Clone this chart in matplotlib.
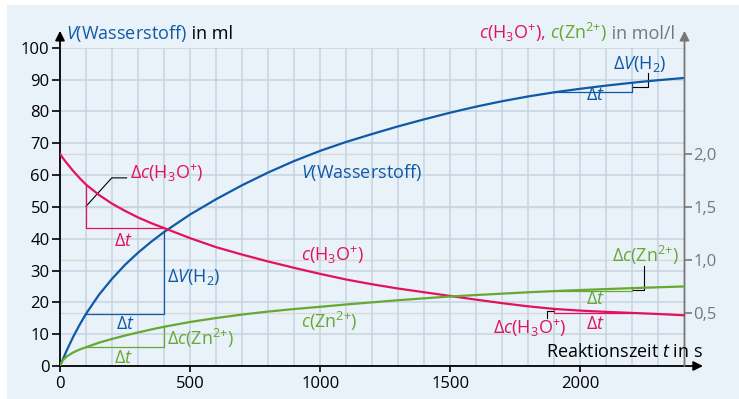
import numpy as np
import matplotlib
matplotlib.use('Agg')
import matplotlib.pyplot as plt
from matplotlib.patches import Rectangle
from matplotlib.transforms import IdentityTransform

plt.rcParams['font.family'] = ['Open Sans', 'DejaVu Sans']
plt.rcParams['mathtext.fontset'] = 'custom'
plt.rcParams['mathtext.rm'] = 'Open Sans'
plt.rcParams['mathtext.it'] = 'Open Sans:italic'
plt.rcParams['mathtext.bf'] = 'Open Sans:bold'

# values
t_v = [0, 25, 50, 75, 100, 150, 200, 250, 300, 350, 400, 500, 600, 700, 800, 900, 1000,
       1100, 1200, 1300, 1400, 1500, 1600, 1700, 1800, 1900, 2000, 2100, 2200, 2300, 2400]
v_h2 = [0, 4.75, 9.05, 12.9, 16.4, 22.4, 27.4, 31.8, 35.6, 39.0, 42.1, 47.6, 52.4, 56.8, 60.8, 64.4, 67.6,
        70.4, 72.9, 75.3, 77.5, 79.6, 81.5, 83.2, 84.7, 86.0, 87.1, 88.1, 89.0, 89.8, 90.5]

t_c = [0, 10, 25, 50, 75, 100, 150, 200, 250, 300, 350, 400, 500, 600, 700, 800, 900, 1000,
       1100, 1200, 1300, 1400, 1500, 1600, 1700, 1800, 1900, 2000, 2100, 2200, 2300, 2400]
c_h3o = [2.0, 1.963, 1.915, 1.84, 1.772, 1.71, 1.612, 1.53, 1.462, 1.40, 1.347, 1.30, 1.205, 1.12,
         1.05, 0.985, 0.925, 0.868, 0.815, 0.77, 0.73, 0.695, 0.66, 0.625, 0.592, 0.562, 0.538,
         0.522, 0.51, 0.50, 0.49, 0.478]
c_zn = [0, 0.052, 0.088, 0.127, 0.155, 0.177, 0.22, 0.255, 0.287, 0.316, 0.344, 0.37, 0.415, 0.452,
        0.485, 0.513, 0.537, 0.558, 0.58, 0.60, 0.62, 0.638, 0.655, 0.669, 0.682, 0.695, 0.706,
        0.716, 0.725, 0.734, 0.742, 0.75]

x_ticks = [0, 500, 1000, 1500, 2000]
v_ticks = list(range(0, 101, 10))
c_ticks = [0.5, 1.0, 1.5, 2.0]
c_labels = ['0,5', '1,0', '1,5', '2,0']

# chemistry labels ({+} keeps mathtext from spacing the sign)
H3O = 'H$_3$O$^{+}$'
ZN = 'Zn$^{2{+}}$'

blue = '#0f5aa6'
red = '#e2125b'
green = '#66a832'
gray = '#777777'
bg = '#e9f1f9'
gridc = '#c6d4e0'

W, H = 739, 399
fs = 13
fig = plt.figure(figsize=(W / 100, H / 100), dpi=100)
fig.patch.set_facecolor('white')
fig.patches.append(Rectangle((7 / W, 0), 1, 394 / H, transform=fig.transFigure,
                             facecolor=bg, edgecolor='none', zorder=-10))

ax = fig.add_axes([60 / W, 33 / H, 624.5 / W, 318.3 / H])
ax.patch.set_visible(False)
ax.set_xlim(0, 2400)
ax.set_ylim(0, 100)
ax2 = ax.twinx()
ax2.set_ylim(0, 3.0)

for a in (ax, ax2):
    for s in a.spines.values():
        s.set_visible(False)

ax.set_xticks(x_ticks)
ax.set_xticks(range(0, 2401, 100), minor=True)
ax.set_yticks(v_ticks)
ax.grid(True, which='both', axis='x', color=gridc, lw=1.1)
ax.grid(True, which='major', axis='y', color=gridc, lw=1.1)
ml_per_mol = ax.get_ylim()[1] / ax2.get_ylim()[1]
for c in c_ticks:
    ax.axhline(c * ml_per_mol, color='#d9d9d9', lw=1.0, zorder=1.4)

ax.tick_params(axis='x', which='minor', length=0)
ax.tick_params(axis='x', which='major', length=4, width=1.2, color='black',
               labelsize=12, pad=3)
ax.tick_params(axis='y', length=6, width=1.2, color='black', labelsize=12, pad=1.5)
ax2.set_yticks(c_ticks)
ax2.set_yticklabels(c_labels)
ax2.tick_params(axis='y', length=5, width=1.2, color=gray, labelcolor=gray,
                labelsize=12, pad=1.5)

arrow = dict(arrowstyle='-|>', lw=1.3, shrinkA=0, shrinkB=0, mutation_scale=14)
ax.annotate('', xy=(0, 1.053), xytext=(0, 0), xycoords='axes fraction',
            textcoords='axes fraction', arrowprops=dict(arrow, color='black'))
ax.annotate('', xy=(1.0296, 0), xytext=(0, 0), xycoords='axes fraction',
            textcoords='axes fraction', arrowprops=dict(arrow, color='black'))
ax2.annotate('', xy=(1, 1.053), xytext=(1, 0), xycoords='axes fraction',
             textcoords='axes fraction', arrowprops=dict(arrow, color=gray))

# curves
ax.plot(t_v, v_h2, color=blue, lw=1.6, zorder=3)
ax2.plot(t_c, c_h3o, color=red, lw=1.6, zorder=3)
ax2.plot(t_c, c_zn, color=green, lw=1.6, zorder=3)


def tri_rise(a, ts, ys, t0, t1, color):
    y0 = np.interp(t0, ts, ys)
    y1 = np.interp(t1, ts, ys)
    a.plot([t0, t1, t1], [y0, y0, y1], color=color, lw=0.9, zorder=2.5)
    return y0, y1


def tri_fall(a, ts, ys, t0, t1, color):
    y0 = np.interp(t0, ts, ys)
    y1 = np.interp(t1, ts, ys)
    a.plot([t0, t0, t1], [y0, y1, y1], color=color, lw=0.9, zorder=2.5)
    return y0, y1


# left triangles
r0, r1 = tri_fall(ax2, t_c, c_h3o, 100, 400, red)
ax2.plot([100, 199, 256], [(r0 + r1) / 2, 1.773, 1.773], color='black', lw=0.8)
ax2.text(269, 1.761, 'Δ$c$(' + H3O + ')', color=red, fontsize=fs, va='baseline')
ax2.text(245, 1.131, 'Δ$t$', color=red, fontsize=fs, ha='center', va='baseline')

tri_rise(ax, t_v, v_h2, 100, 400, blue)
ax.text(410, 26.5, 'Δ$V$(H$_2$)', color=blue, fontsize=fs, va='baseline')
ax.text(250, 11.5, 'Δ$t$', color=blue, fontsize=fs, ha='center', va='baseline')

tri_rise(ax2, t_c, c_zn, 100, 400, green)
ax2.text(410, 0.198, 'Δ$c$(' + ZN + ')', color=green, fontsize=fs, va='baseline')
ax2.text(245, 0.03, 'Δ$t$', color=green, fontsize=fs, ha='center', va='baseline')

# right triangles
b0, b1 = tri_rise(ax, t_v, v_h2, 1900, 2200, blue)
ax.plot([2200, 2258, 2258], [(b0 + b1) / 2, (b0 + b1) / 2, 92.2], color='black', lw=0.8)
ax.text(2228, 93.2, 'Δ$V$(H$_2$)', color=blue, fontsize=fs, ha='center', va='baseline')
ax.text(2056, 83.6, 'Δ$t$', color=blue, fontsize=fs, ha='center', va='baseline')

g0, g1 = tri_rise(ax2, t_c, c_zn, 1900, 2200, green)
ax2.plot([2200, 2246, 2246], [(g0 + g1) / 2, (g0 + g1) / 2, 0.943], color='black', lw=0.8)
ax2.text(2251, 0.984, 'Δ$c$(' + ZN + ')', color=green, fontsize=fs, ha='center', va='baseline')
ax2.text(2056, 0.585, 'Δ$t$', color=green, fontsize=fs, ha='center', va='baseline')

h0, h1 = tri_fall(ax2, t_c, c_h3o, 1900, 2200, red)
ax2.plot([1900, 1873, 1873], [(h0 + h1) / 2, (h0 + h1) / 2, 0.45], color='black', lw=0.8)
ax2.text(1805, 0.30, 'Δ$c$(' + H3O + ')', color=red, fontsize=fs, ha='center', va='baseline')
ax2.text(2056, 0.346, 'Δ$t$', color=red, fontsize=fs, ha='center', va='baseline')

# curve labels
ax.text(926, 59.0, '$V$(Wasserstoff)', color=blue, fontsize=fs, va='baseline')
ax2.text(926, 0.99, '$c$(' + H3O + ')', color=red, fontsize=fs, va='baseline')
ax2.text(926, 0.355, '$c$(' + ZN + ')', color=green, fontsize=fs, va='baseline')

# axis titles, pieced together in pixel coordinates
renderer = fig.canvas.get_renderer()


def rich_text(x, y, pieces, align='left'):
    items = []
    for s, c in pieces:
        t = fig.text(0, 0, s, color=c, fontsize=fs, va='baseline', ha='left',
                     transform=IdentityTransform())
        items.append((t, t.get_window_extent(renderer).width))
    total = sum(w for _, w in items)
    x0 = x - total if align == 'right' else x
    for t, w in items:
        t.set_position((x0, H - y))
        x0 += w


rich_text(66, 39, [('$V$(Wasserstoff)', blue), (' in ml', 'black')])
rich_text(675, 39, [('$c$(' + H3O + '),', red), (' $c$(' + ZN + ')', green),
                    (' in mol/l', gray)], align='right')
rich_text(703, 357, [('Reaktionszeit $t$ in s', 'black')], align='right')

fig.savefig('out.png', dpi=100)
